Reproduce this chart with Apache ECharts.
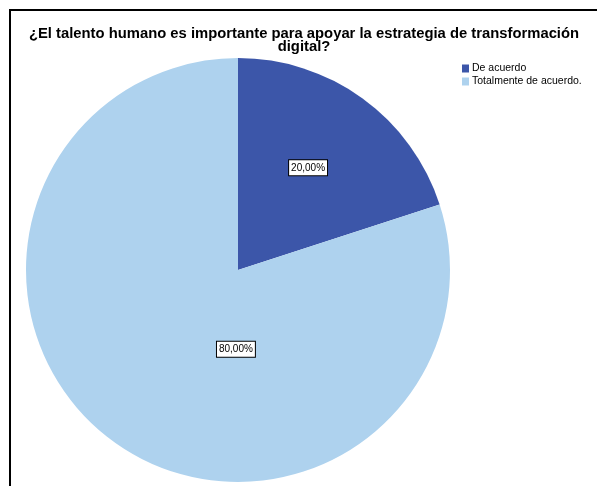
<!DOCTYPE html>
<html>
<head>
<meta charset="utf-8">
<script src="https://cdn.jsdelivr.net/npm/echarts@6/dist/echarts.min.js"></script>
<style>html,body{margin:0;padding:0;background:#fff}#c{width:597px;height:486px}</style>
</head>
<body>
<div id="c"></div>
<script>
const titleText = "¿El talento humano es importante para apoyar la estrategia de transformación\ndigital?";
const categories = ["De acuerdo", "Totalmente de acuerdo."];
const values = [20, 80];
const labels = ["20,00%", "80,00%"];
const colors = ["#3C56A9", "#AED2EE"];
const labelOffsets = [[6, -14], [62, -9]];

const chart = echarts.init(document.getElementById('c'), null, {renderer: 'canvas'});
chart.setOption({
  animation: false,
  backgroundColor: '#fff',
  title: {
    text: titleText,
    left: 304, top: 27, textAlign: 'center', padding: 0,
    textStyle: {fontFamily: 'Liberation Sans, Arial', fontWeight: 'bold', fontSize: 14.8, lineHeight: 13, color: '#000'}
  },
  legend: {
    orient: 'vertical', left: 462, top: 63, padding: 0,
    itemWidth: 7, itemHeight: 8, itemGap: 2,
    icon: 'rect',
    textStyle: {fontFamily: 'Liberation Sans, Arial', fontSize: 10.5, color: '#000', padding: [0,0,0,-2]},
    data: categories
  },
  graphic: [{
    type: 'rect', shape: {x: 10, y: 10, width: 620, height: 500},
    style: {fill: 'none', stroke: '#000', lineWidth: 2}, silent: true
  }],
  series: [{
    type: 'pie',
    center: [238, 270], radius: 212,
    startAngle: 90, clockwise: true,
    emphasis: {disabled: true},
    labelLine: {show: false},
    data: categories.map((n, i) => ({
      name: n, value: values[i],
      itemStyle: {color: colors[i]},
      label: {
        show: true, position: 'inside', formatter: labels[i],
        offset: labelOffsets[i],
        fontFamily: 'Liberation Sans, Arial', fontSize: 10, color: '#000',
        backgroundColor: '#fff', borderColor: '#000', borderWidth: 1,
        padding: [3, 2, 2, 2]
      }
    }))
  }]
});
</script>
</body>
</html>
